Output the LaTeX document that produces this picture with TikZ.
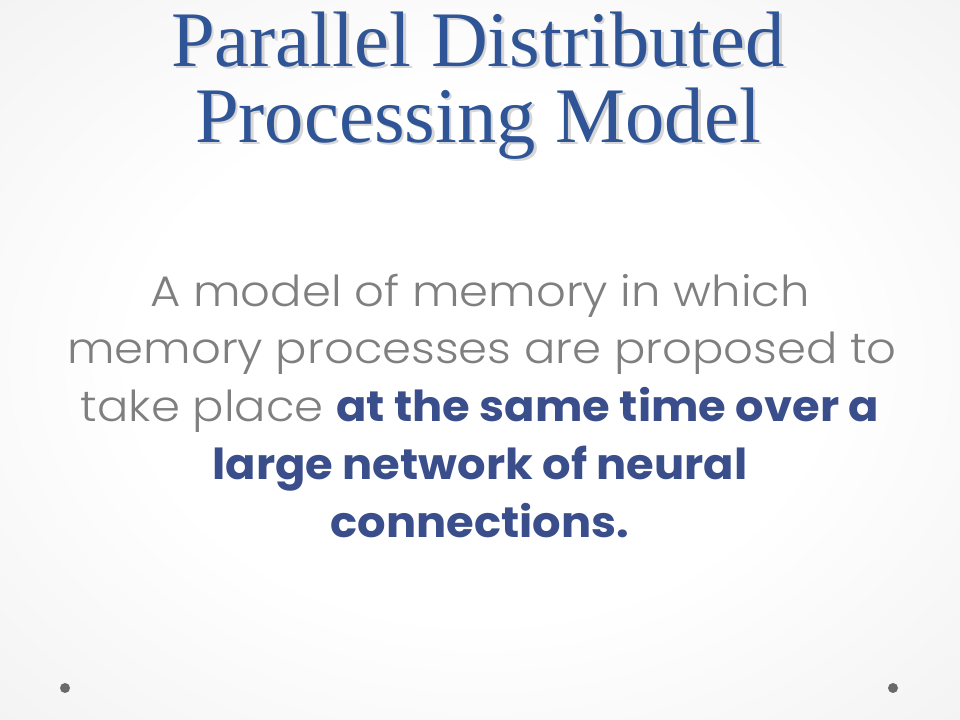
\documentclass[tikz,border=0pt]{standalone}
\usepackage{fontspec}
\usepackage{tikz}
\setmainfont{Liberation Serif}
\newfontfamily\titlefont{Liberation Serif}
\newfontfamily\bodyfont{Poppins}[UprightFont=* Light, FakeStretch=1.09]
\newfontfamily\hlfont{Poppins}[FakeStretch=1.05]
\definecolor{titleblue}{HTML}{2F5597}
\definecolor{boldblue}{HTML}{3A4E8C}
\definecolor{bodygray}{HTML}{7F7F7F}
\definecolor{edgegray}{HTML}{DADADA}
\definecolor{dotgray}{HTML}{6A6A6A}
\pgfdeclareradialshading{slidebg}{\pgfpoint{0bp}{0bp}}{color(0bp)=(white); color(18bp)=(white); color(72bp)=(edgegray)}
\tikzset{
  titleline/.style={anchor=base, inner sep=0pt, text=titleblue, font=\titlefont\fontsize{59}{59}\selectfont},
  titleshadow/.style={anchor=base, inner sep=0pt, text=black!16, font=\titlefont\fontsize{59}{59}\selectfont},
  bodyline/.style={anchor=base, inner sep=0pt, text=bodygray, font=\bodyfont\fontsize{32}{32}\selectfont}
}
\newcommand{\hl}[1]{\textcolor{boldblue}{\hlfont\bfseries #1}}
\begin{document}
\begin{tikzpicture}[x=0.75pt, y=0.75pt]
  % background
  \useasboundingbox (0,0) rectangle (960,720);
  \shade[shading=slidebg] (0,0) rectangle (960,720);
  % title shadow
  \node[titleshadow] (shadow1) at (480.5,651.5) {Parallel Distributed};
  \node[titleshadow] (shadow2) at (480.5,575.5) {Processing Model};
  % title
  \node[titleline] (title1) at (478,653) {Parallel Distributed};
  \node[titleline] (title2) at (478,577) {Processing Model};
  % body text
  \node[bodyline] (line1) at (480,413) {A model of memory in which};
  \node[bodyline] (line2) at (482,356) {memory processes are proposed to};
  \node[bodyline] (line3) at (480,298) {take place \hl{at the same time over a}};
  \node[bodyline] (line4) at (480,240) {\hl{large network of neural}};
  \node[bodyline] (line5) at (480,182) {\hl{connections.}};
  % corner dots
  \fill[dotgray] (65,32) circle [radius=5];
  \fill[dotgray] (893,32) circle [radius=5];
\end{tikzpicture}
\end{document}
